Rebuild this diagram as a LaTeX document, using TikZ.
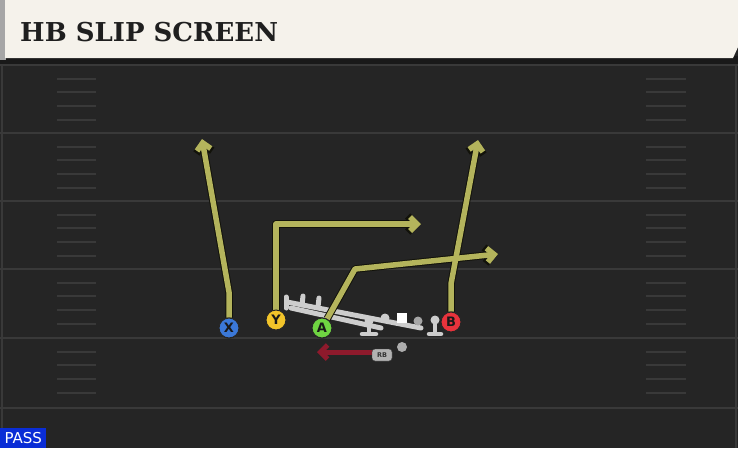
\documentclass[tikz,border=0pt]{standalone}
\usepackage{fontspec}
\setmainfont{DejaVu Sans}
\newfontfamily\titlefont{DejaVu Serif}
\usetikzlibrary{arrows.meta}
\definecolor{field}{HTML}{252525}
\definecolor{yardln}{HTML}{393939}
\definecolor{cream}{HTML}{F5F2EB}
\definecolor{route}{HTML}{B4B45C}
\definecolor{routeout}{HTML}{12120A}
\definecolor{rbred}{HTML}{8E1A2C}
\definecolor{passblue}{HTML}{0A2DD6}
\definecolor{sled}{HTML}{CDCDCD}
\definecolor{xblue}{HTML}{3B78D8}
\definecolor{yyel}{HTML}{F2C42A}
\definecolor{agreen}{HTML}{6FD442}
\definecolor{bred}{HTML}{E8333C}
\tikzset{
  player/.style={circle, draw=black!85, line width=1pt, minimum size=20pt, inner sep=0pt,
    font=\fontsize{13}{13}\selectfont\bfseries, text=black!90},
  routebg/.style={draw=routeout, line width=7.5pt, line join=round, -{Straight Barb[length=8pt,width=16pt,line width=7.5pt]}},
  routefg/.style={draw=route, line width=5.5pt, line join=round, -{Straight Barb[length=7pt,width=14pt,line width=5.5pt]}},
  yardline/.style={draw=yardln, line width=2.5pt},
  hashmk/.style={draw=yardln, line width=2pt},
  sledbar/.style={draw=sled, line width=5pt, line cap=round},
}
\begin{document}
\begin{tikzpicture}[x=1pt,y=-1pt]
\useasboundingbox (0,0) rectangle (738,448);
% field
\fill[field] (0,0) rectangle (738,448);
\fill[black!90] (0,56) rectangle (738,64);
% header
\fill[black!35] (0,0) rectangle (6,60);
\fill[cream] (5,0) -- (738,0) -- (738,47) -- (733,58) -- (5,58) -- cycle;
\node[anchor=west, inner sep=0pt, font=\titlefont\fontsize{26}{26}\selectfont\bfseries, text=black!88] (title) at (20,32) {HB SLIP SCREEN};
% side lines
\draw[yardln, line width=1.5pt] (2,64) -- (2,430);
\draw[yardln, line width=1.5pt] (736,64) -- (736,448);
% yard lines
\foreach \y in {65,133,201,269,338,408}{
  \draw[yardline] (0,\y) -- (738,\y);
}
% hash marks
\foreach \b in {65,133,201,269,338}{
  \foreach \k in {1,2,3,4}{
    \draw[hashmk] (57,\b+13.7*\k) -- (96,\b+13.7*\k);
    \draw[hashmk] (646,\b+13.7*\k) -- (686,\b+13.7*\k);
  }
}
% blocking sled / line
\draw[sledbar] (287,302) -- (421,328);
\draw[sledbar] (291,308) -- (381,328);
\draw[sledbar] (286,297) -- (286,308);
\draw[sledbar] (303,296) -- (302,305);
\draw[sledbar] (319,298) -- (318,307);
\draw[sledbar, line width=4pt] (369,323) -- (369,334);
\draw[sledbar, line width=4.5pt] (362,334) -- (376,334);
\draw[sledbar, line width=4pt] (435,321) -- (435,334);
\draw[sledbar, line width=4.5pt] (429,334) -- (441,334);
\fill[sled] (369,321) circle (4.5pt);
\fill[sled] (385,318) circle (4.5pt);
\fill[gray!70] (418,321) circle (4.5pt);
\fill[sled] (435,320) circle (4.5pt);
\fill[white] (397,313) rectangle (407,323);
% routes coordinates
\coordinate (xb) at (229,292);
\coordinate (xe) at (202,139);
\coordinate (yb) at (276,224);
\coordinate (ye) at (421,224);
\coordinate (ab) at (355,269);
\coordinate (ae) at (498,254);
\coordinate (bb) at (451,284);
\coordinate (be) at (478,140);
% players
\node[player, fill=xblue] (X) at (229,328) {X};
\node[player, fill=yyel] (Y) at (276,320) {Y};
\node[player, fill=agreen] (A) at (322,328) {A};
\node[player, fill=bred] (B) at (451,322) {B};
% routes
\foreach \p/\q/\r in {X/xb/xe, Y/yb/ye, A/ab/ae, B/bb/be}{
  \draw[routebg] (\p) -- (\q) -- (\r);
}
\foreach \p/\q/\r in {X/xb/xe, Y/yb/ye, A/ab/ae, B/bb/be}{
  \draw[routefg] (\p) -- (\q) -- (\r);
}
% redraw players on top
\node[player, fill=xblue] at (229,328) {X};
\node[player, fill=yyel] at (276,320) {Y};
\node[player, fill=agreen] at (322,328) {A};
\node[player, fill=bred] at (451,322) {B};
% RB
\coordinate (rbe) at (317,352);
\draw[rbred, line width=5pt, -{Straight Barb[length=7pt,width=14pt,line width=5pt]}] (378,352) -- (rbe);
\node[draw=black!75, fill=gray!60, rounded corners=3pt, inner sep=1.5pt, minimum width=20pt, minimum height=12pt,
  font=\fontsize{6.5}{6.5}\selectfont\bfseries, text=black!80] (RB) at (382,355) {RB};
\fill[gray!65] (402,347) circle (5pt);
% PASS
\node[fill=passblue, text=white, anchor=south west, inner sep=0pt, minimum width=46pt, minimum height=20pt,
  font=\fontsize{15}{15}\selectfont] (pass) at (0,448) {PASS};
\end{tikzpicture}
\end{document}
